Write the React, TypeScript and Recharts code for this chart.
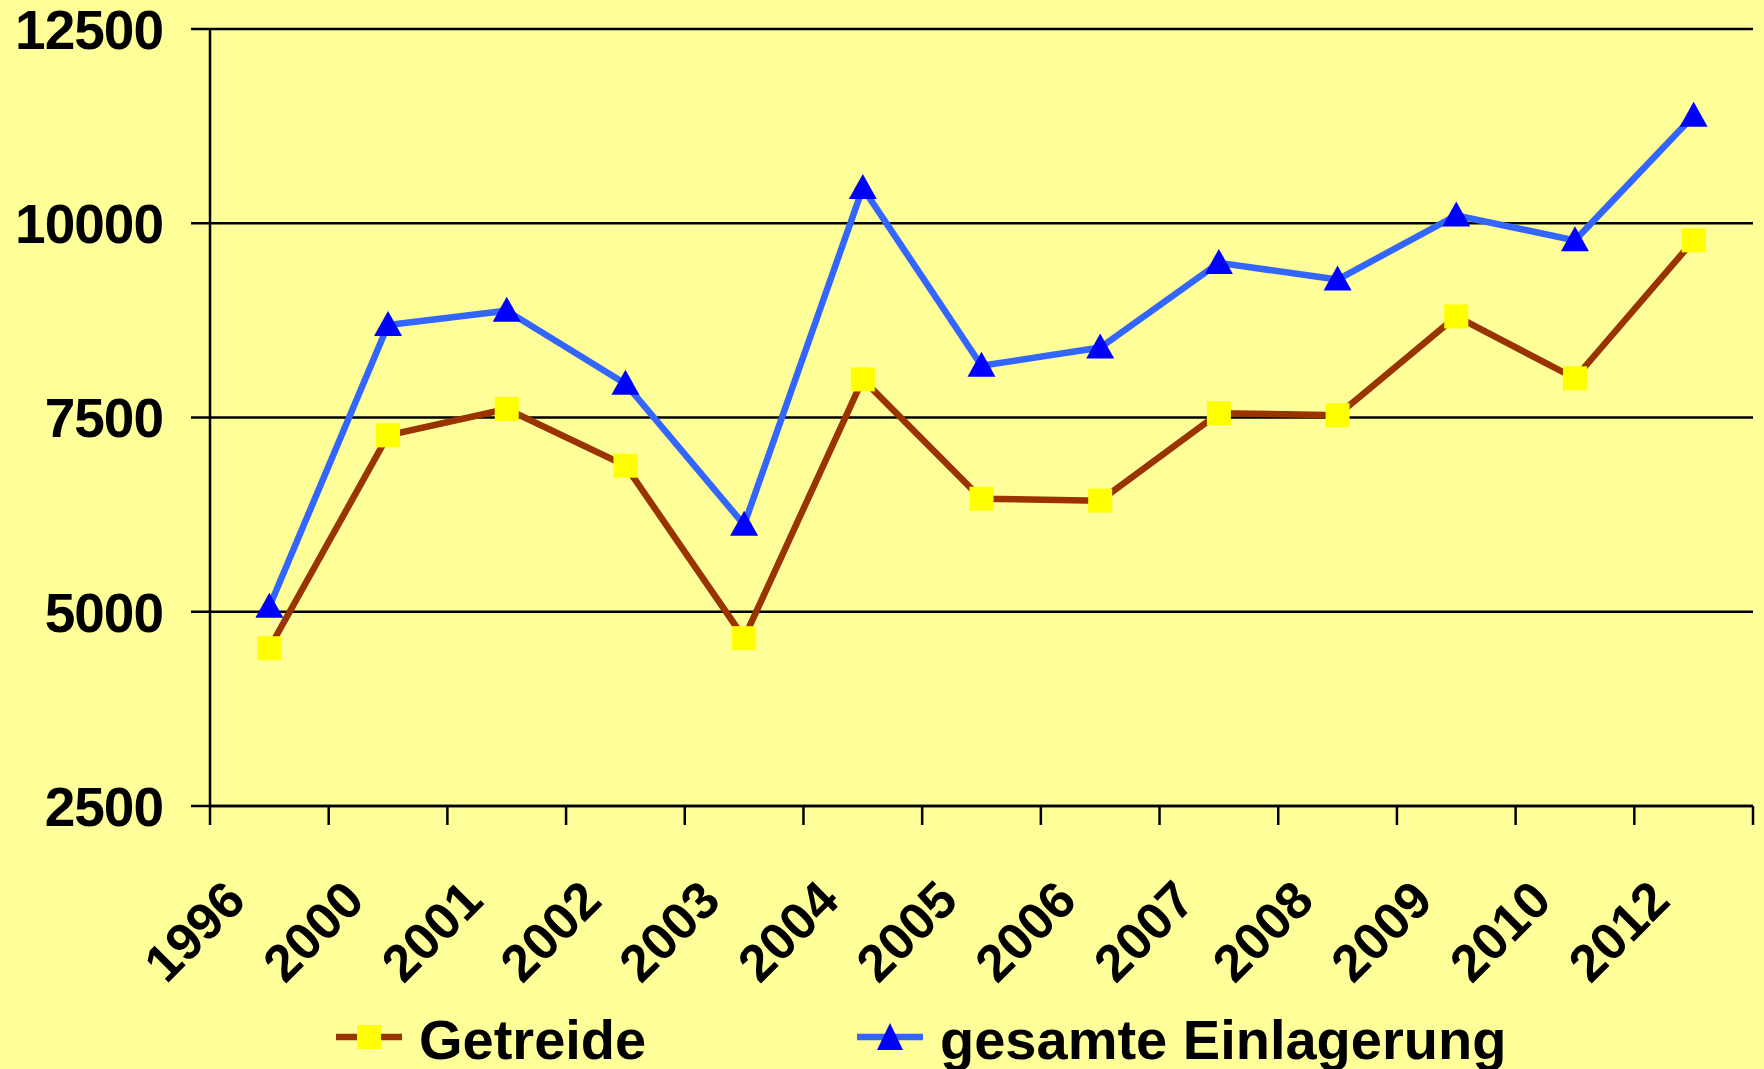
import { LineChart, Line, XAxis, YAxis, CartesianGrid, Legend } from 'recharts';

const years = ['1996', '2000', '2001', '2002', '2003', '2004', '2005', '2006', '2007', '2008', '2009', '2010', '2012'];
const getreide = [4530, 7270, 7610, 6880, 4660, 7990, 6455, 6430, 7555, 7530, 8800, 8005, 9780];
const gesamt = [5065, 8690, 8875, 7935, 6120, 10455, 8165, 8400, 9490, 9275, 10100, 9780, 11385];
const yTicks = [2500, 5000, 7500, 10000, 12500];
const xBounds = years.map((_, i) => i).concat(years.length);

const data = years.map((year, i) => ({
  pos: i + 0.5,
  year,
  getreide: getreide[i],
  gesamt: gesamt[i],
}));

const FONT = '"Liberation Sans", Arial, sans-serif';

function SquareDot(props: any) {
  const { cx, cy } = props;
  if (cx == null || cy == null) return <g />;
  return <rect x={cx - 12} y={cy - 12} width={24} height={24} fill="#FFFF00" />;
}

function TriangleDot(props: any) {
  const { cx, cy } = props;
  if (cx == null || cy == null) return <g />;
  return <polygon points={`${cx},${cy - 14} ${cx + 14},${cy + 11} ${cx - 14},${cy + 11}`} fill="#0000FF" />;
}

function YearTick(props: any) {
  const { x, y, payload } = props;
  const label = years[payload.value];
  if (label === undefined) return <g />;
  const ax = x + 38;
  const ay = y + 78;
  return (
    <text
      x={ax}
      y={ay}
      textAnchor="end"
      transform={`rotate(-45, ${ax}, ${ay})`}
      fontFamily={FONT}
      fontWeight="bold"
      fontSize={52}
      fill="#000"
    >
      {label}
    </text>
  );
}

function ValueTick(props: any) {
  const { x, y, payload } = props;
  return (
    <text
      x={x}
      y={y}
      dy="0.36em"
      textAnchor="end"
      fontFamily={FONT}
      fontWeight="bold"
      fontSize={55}
      letterSpacing={-1}
      fill="#000"
    >
      {payload.value}
    </text>
  );
}

function LegendBox() {
  const items = [
    { left: 336, text: 'Getreide', color: '#993300', marker: 'square' },
    { left: 857, text: 'gesamte Einlagerung', color: '#3366FF', marker: 'triangle' },
  ];
  return (
    <div style={{ position: 'relative', height: 64, fontFamily: FONT, fontWeight: 'bold', fontSize: 56, lineHeight: '56px' }}>
      {items.map((it) => (
        <div key={it.text}>
          <svg width={66} height={30} style={{ position: 'absolute', left: it.left, top: 10 }}>
            <line x1={0} y1={15} x2={66} y2={15} stroke={it.color} strokeWidth={6.5} />
            {it.marker === 'square' ? (
              <rect x={21} y={3} width={24} height={24} fill="#FFFF00" />
            ) : (
              <polygon points="33,1 46,28 20,28" fill="#0000FF" />
            )}
          </svg>
          <span style={{ position: 'absolute', left: it.left + 83, top: 0, color: '#000', whiteSpace: 'nowrap' }}>
            {it.text}
          </span>
        </div>
      ))}
    </div>
  );
}

export default function App() {
  return (
    <div style={{ position: 'absolute', left: 0, top: 0, width: 1764, height: 1069, background: '#FFFF99' }}>
      <LineChart width={1764} height={1069} data={data} margin={{ top: 29, right: 11, left: 0, bottom: 0 }}>
        <CartesianGrid vertical={false} stroke="#000" strokeWidth={2.5} />
        <XAxis
          dataKey="pos"
          type="number"
          domain={[0, years.length]}
          ticks={xBounds}
          interval={0}
          height={263}
          tickSize={19}
          tickMargin={0}
          tick={<YearTick />}
          axisLine={{ stroke: '#000', strokeWidth: 2.5 }}
          tickLine={{ stroke: '#000', strokeWidth: 2.5 }}
        />
        <YAxis
          domain={[2500, 12500]}
          ticks={yTicks}
          interval={0}
          width={210}
          tickSize={19}
          tickMargin={28}
          axisLine={{ stroke: '#000', strokeWidth: 2.5 }}
          tickLine={{ stroke: '#000', strokeWidth: 2.5 }}
          tick={<ValueTick />}
        />
        <YAxis
          yAxisId="right"
          orientation="right"
          domain={[2500, 12500]}
          width={0}
          tick={false}
          tickLine={false}
          axisLine={{ stroke: '#000', strokeWidth: 2.5 }}
        />
        <Legend
          layout="horizontal"
          verticalAlign="middle"
          align="center"
          wrapperStyle={{ top: 1012, left: 0, width: 1764 }}
          content={<LegendBox />}
        />
        <Line
          type="linear"
          dataKey="getreide"
          name="Getreide"
          stroke="#993300"
          strokeWidth={6.5}
          dot={<SquareDot />}
          activeDot={false}
          isAnimationActive={false}
        />
        <Line
          type="linear"
          dataKey="gesamt"
          name="gesamte Einlagerung"
          stroke="#3366FF"
          strokeWidth={6.5}
          dot={<TriangleDot />}
          activeDot={false}
          isAnimationActive={false}
        />
      </LineChart>
    </div>
  );
}
